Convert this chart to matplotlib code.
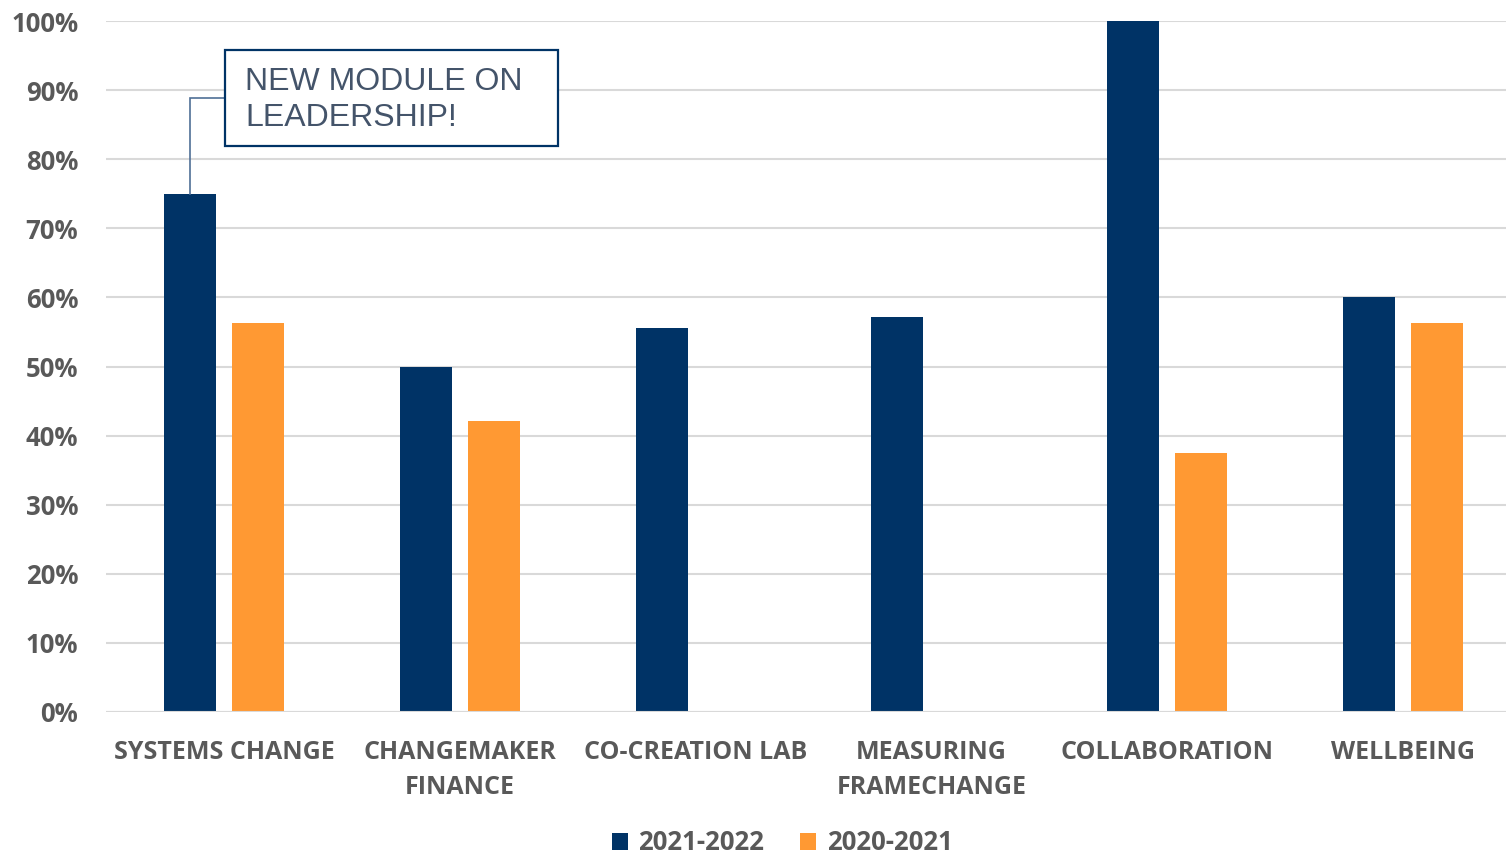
import matplotlib
matplotlib.use("Agg")
import matplotlib.pyplot as plt
from matplotlib.patches import Rectangle, Patch
import numpy as np

categories = ["SYSTEMS CHANGE", "CHANGEMAKER\nFINANCE", "CO-CREATION LAB",
              "MEASURING\nFRAMECHANGE", "COLLABORATION", "WELLBEING"]
series_2021_2022 = [0.75, 0.50, 0.556, 0.571, 1.00, 0.60]
series_2020_2021 = [0.5625, 0.421, None, None, 0.375, 0.5625]
series_names = ["2021-2022", "2020-2021"]
y_ticks = [0.0, 0.1, 0.2, 0.3, 0.4, 0.5, 0.6, 0.7, 0.8, 0.9, 1.0]
note_text = "NEW MODULE ON\nLEADERSHIP!"

NAVY = "#003366"
ORANGE = "#FF9933"
GRAY = "#595959"
GRID = "#D9D9D9"
LABEL_FONT = ["Open Sans", "DejaVu Sans"]

W, H = 1506, 857
fig = plt.figure(figsize=(W / 100, H / 100), dpi=100)
# plot area runs slightly past the right edge of the canvas
ax = fig.add_axes([106 / W, 1 - 712 / H, 1415 / W, 691 / H])

x = np.arange(len(categories))
width = 0.2206
offset = 0.144

v1 = np.array(series_2021_2022, dtype=float)
v2 = np.array([np.nan if v is None else v for v in series_2020_2021], dtype=float)
ax.bar(x - offset, v1, width, color=NAVY, zorder=3)
mask = ~np.isnan(v2)
ax.bar(x[mask] + offset, v2[mask], width, color=ORANGE, zorder=3)

ax.set_xlim(-0.5, len(categories) - 0.5)
ax.set_ylim(0, 1.0)
ax.set_yticks(y_ticks)
ax.set_yticklabels([f"{int(round(t * 100))}%" for t in y_ticks])
ax.yaxis.grid(True, color=GRID, linewidth=1.5, zorder=0)
ax.set_axisbelow(True)
for s in ax.spines.values():
    s.set_visible(False)
ax.tick_params(axis="both", length=0)
ax.tick_params(axis="y", pad=20)
ax.tick_params(axis="x", pad=20)
for lbl in ax.get_yticklabels():
    lbl.set_fontfamily(LABEL_FONT)
    lbl.set_fontweight("bold")
    lbl.set_fontsize(18.5)
    lbl.set_color(GRAY)
ax.set_xticks(x)
ax.set_xticklabels(categories, fontfamily=LABEL_FONT, fontweight="bold",
                   fontsize=18, color=GRAY, linespacing=1.52,
                   multialignment="center", va="top")
ax.axhline(0, color=GRID, linewidth=1.5, zorder=4)

# callout box with connector to the first bar
x_per_px = 6 / 1415
box_left = -0.5 + (225 - 106) * x_per_px
box_right = -0.5 + (558 - 106) * x_per_px
box_bottom, box_top = 0.819, 0.958
box_mid = (box_bottom + box_top) / 2
ax.add_patch(Rectangle((box_left, box_bottom), box_right - box_left, box_top - box_bottom,
                       fill=True, facecolor="white", edgecolor=NAVY, linewidth=1.6,
                       zorder=5, clip_on=False))
ax.text(box_left + 20 * x_per_px, box_mid - 0.003, note_text,
        fontfamily=["Liberation Sans", "DejaVu Sans"],
        fontsize=23, color="#44546A", va="center", ha="left", linespacing=1.28, zorder=6)
ax.plot([x[0] - offset, x[0] - offset, box_left], [v1[0], box_mid, box_mid],
        color="#4F6F96", linewidth=1.2, zorder=4, solid_joinstyle="miter")

handles = [Patch(facecolor=NAVY, edgecolor="none"), Patch(facecolor=ORANGE, edgecolor="none")]
leg = fig.legend(handles, series_names, loc="center", bbox_to_anchor=(0.5195, 0.0165),
                 ncol=2, frameon=False, handlelength=0.62, handleheight=0.62,
                 handletextpad=0.4, columnspacing=1.4,
                 prop={"family": LABEL_FONT, "weight": "bold", "size": 18.5})
for t in leg.get_texts():
    t.set_color(GRAY)

fig.savefig("out.png", dpi=100, facecolor="white")
